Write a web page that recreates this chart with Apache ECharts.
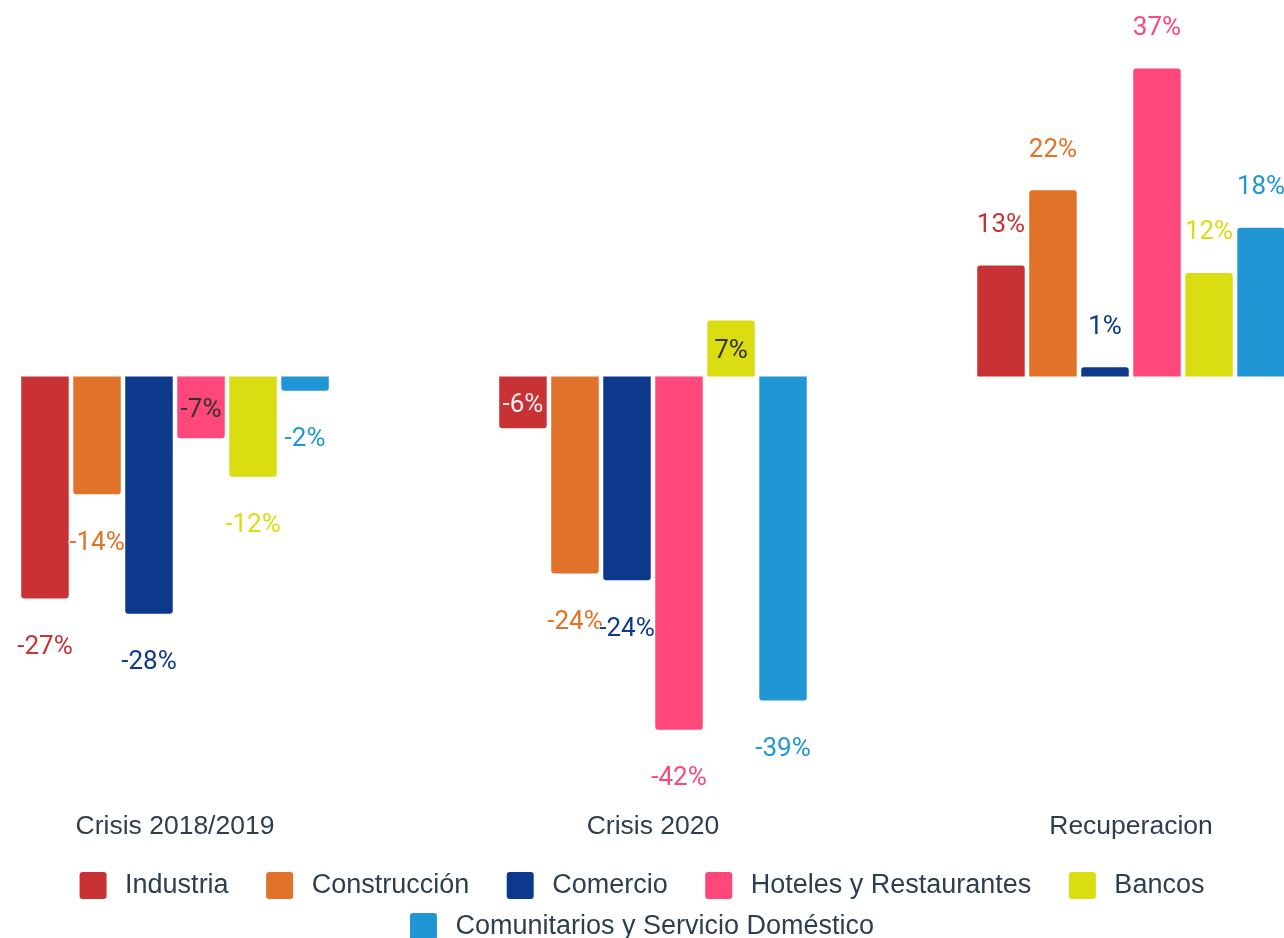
<!DOCTYPE html>
<html>
<head>
<meta charset="utf-8">
<script src="https://cdn.jsdelivr.net/npm/echarts@6/dist/echarts.min.js"></script>
<style>
  html, body { margin: 0; padding: 0; background: #fff; }
  #chart { width: 1284px; height: 938px; }
</style>
</head>
<body>
<div id="chart"></div>
<script>
// periodos
const categories = ['Crisis 2018/2019', 'Crisis 2020', 'Recuperacion'];

// variación del empleo (%) por sector, en el orden de los periodos
const industria = [-26.6, -6.2, 13.3];
const construccion = [-14.1, -23.6, 22.3];
const comercio = [-28.4, -24.4, 1.1];
const hoteles = [-7.4, -42.3, 36.9];
const bancos = [-12.0, 6.7, 12.4];
const comunitarios = [-1.7, -38.8, 17.8];

const sectorNames = [
  'Industria',
  'Construcción',
  'Comercio',
  'Hoteles y Restaurantes',
  'Bancos',
  'Comunitarios y Servicio Doméstico'
];
const sectorValues = [industria, construccion, comercio, hoteles, bancos, comunitarios];
const sectorColors = ['#c93235', '#e17229', '#0c398b', '#fe477b', '#dbdd13', '#2097d4'];

const textColor = '#2c3e50';
const legendIcon = 'path://M3,0 H24 Q27,0 27,3 V24 Q27,27 24,27 H3 Q0,27 0,24 V3 Q0,0 3,0 Z';

// etiqueta de cada barra: las barras cortas (5-10 %) la llevan dentro
function barLabel(v, color) {
  if (Math.abs(v) >= 5 && Math.abs(v) < 10) {
    return { position: 'inside' };
  }
  return {
    position: v >= 0 ? 'top' : 'bottom',
    distance: v >= 0 ? 30 : 33,
    color: color,
    textBorderColor: '#fff',
    textBorderWidth: 2
  };
}

const chart = echarts.init(document.getElementById('chart'));

chart.setOption({
  animation: false,
  grid: {
    left: -64,
    right: -86,
    top: 42.5,
    bottom: 144,
    outerBoundsMode: 'none'
  },
  legend: [
    {
      data: sectorNames.slice(0, 5),
      left: 'center',
      top: 872,
      padding: 0,
      icon: legendIcon,
      itemWidth: 27,
      itemHeight: 27,
      itemGap: 37.5,
      textStyle: {
        fontFamily: 'Liberation Sans',
        fontSize: 27,
        color: textColor,
        padding: [0, 0, 0, 13.5]
      }
    },
    {
      data: sectorNames.slice(5),
      left: 'center',
      top: 913,
      padding: 0,
      icon: legendIcon,
      itemWidth: 27,
      itemHeight: 27,
      textStyle: {
        fontFamily: 'Liberation Sans',
        fontSize: 27,
        color: textColor,
        padding: [0, 0, 0, 13.5]
      }
    }
  ],
  xAxis: {
    type: 'category',
    data: categories,
    axisLine: { show: false },
    axisTick: { show: false },
    axisLabel: {
      margin: 19,
      fontFamily: 'Liberation Sans',
      fontSize: 26.5,
      color: textColor
    }
  },
  yAxis: {
    type: 'value',
    min: -50,
    max: 40,
    show: false,
    splitLine: { show: false }
  },
  series: sectorNames.map((name, i) => ({
    name: name,
    type: 'bar',
    barWidth: 47.5,
    barGap: '9.5%',
    itemStyle: { color: sectorColors[i] },
    label: {
      show: true,
      fontFamily: 'Roboto',
      fontSize: 26,
      offset: [0, 3],
      formatter: (p) => Math.round(p.value) + '%'
    },
    emphasis: { disabled: true },
    data: sectorValues[i].map((v) => ({
      value: v,
      itemStyle: { borderRadius: v >= 0 ? [3, 3, 0, 0] : [0, 0, 3, 3] },
      label: barLabel(v, sectorColors[i])
    }))
  }))
});
</script>
</body>
</html>
